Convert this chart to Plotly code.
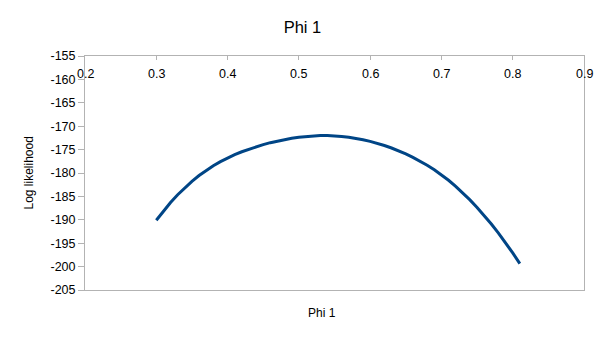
import plotly.graph_objects as go

phi1 = [0.30, 0.31, 0.32, 0.33, 0.34, 0.35, 0.36, 0.37, 0.38, 0.39,
        0.40, 0.41, 0.42, 0.43, 0.44, 0.45, 0.46, 0.47, 0.48, 0.49,
        0.50, 0.51, 0.52, 0.53, 0.54, 0.55, 0.56, 0.57, 0.58, 0.59,
        0.60, 0.61, 0.62, 0.63, 0.64, 0.65, 0.66, 0.67, 0.68, 0.69,
        0.70, 0.71, 0.72, 0.73, 0.74, 0.75, 0.76, 0.77, 0.78, 0.79,
        0.80, 0.81]
log_lik = [-190.11, -188.12, -186.30, -184.65, -183.14, -181.79, -180.54, -179.43, -178.44, -177.57,
           -176.79, -176.09, -175.46, -174.90, -174.39, -173.94, -173.52, -173.15, -172.83, -172.56,
           -172.34, -172.18, -172.06, -172.01, -172.01, -172.07, -172.18, -172.36, -172.60, -172.89,
           -173.25, -173.66, -174.13, -174.66, -175.26, -175.93, -176.66, -177.47, -178.35, -179.33,
           -180.39, -181.56, -182.85, -184.24, -185.74, -187.35, -189.06, -190.89, -192.83, -194.89,
           -197.07, -199.38]

x_tick_vals = [0.2, 0.3, 0.4, 0.5, 0.6, 0.7, 0.8, 0.9]
x_tick_text = ["0.2", "0.3", "0.4", "0.5", "0.6", "0.7", "0.8", "0.9"]
y_tick_vals = [-155, -160, -165, -170, -175, -180, -185, -190, -195, -200, -205]
y_tick_text = ["-155", "-160", "-165", "-170", "-175", "-180", "-185", "-190", "-195", "-200", "-205"]

FONT = "Liberation Sans, Arial, sans-serif"
Y_TOP = -155

fig = go.Figure()
fig.add_trace(go.Scatter(x=phi1, y=log_lik, mode="lines",
                         line=dict(color="#004586", width=3),
                         showlegend=False, hoverinfo="skip"))

annotations = [
    dict(text="Log likelihood", xref="paper", yref="paper", x=(28.5 - 85) / 499, y=0.5,
         xanchor="center", yanchor="middle", textangle=-90, showarrow=False,
         font=dict(size=12, family=FONT, color="#000000")),
    dict(text="Phi 1", xref="paper", yref="paper", x=(322 - 85) / 499, y=(290 - 313) / 234,
         xanchor="center", yanchor="middle", showarrow=False,
         font=dict(size=12, family=FONT, color="#000000")),
]
for v, t in zip(x_tick_vals, x_tick_text):
    annotations.append(dict(text=t, x=v, y=Y_TOP, xref="x", yref="y",
                            xanchor="center", yanchor="middle", yshift=-17.5,
                            showarrow=False,
                            font=dict(size=12.5, family=FONT, color="#000000")))

fig.update_layout(
    width=605, height=340,
    margin=dict(l=85, r=21, t=56, b=50),
    paper_bgcolor="white", plot_bgcolor="white",
    font=dict(family=FONT, color="#000000", size=12.5),
    title=dict(text="Phi 1", x=0.5, xanchor="center", y=1 - 27 / 340, yanchor="middle",
               font=dict(size=16.5, family=FONT, color="#000000")),
    xaxis=dict(range=[0.2, 0.9], tickvals=x_tick_vals, showticklabels=False,
               side="top", ticks="inside", ticklen=4,
               tickcolor="#b3b3b3", showline=True, linecolor="#b3b3b3", linewidth=1,
               mirror=True, showgrid=False, zeroline=False),
    yaxis=dict(range=[-205, -155], tickvals=y_tick_vals, ticktext=y_tick_text,
               ticks="outside", ticklen=6, tickcolor="#b3b3b3",
               showline=True, linecolor="#b3b3b3", linewidth=1, mirror=True,
               showgrid=False, zeroline=False,
               tickfont=dict(size=12.5, family=FONT, color="#000000")),
    annotations=annotations,
)

fig.write_html("out.html")
